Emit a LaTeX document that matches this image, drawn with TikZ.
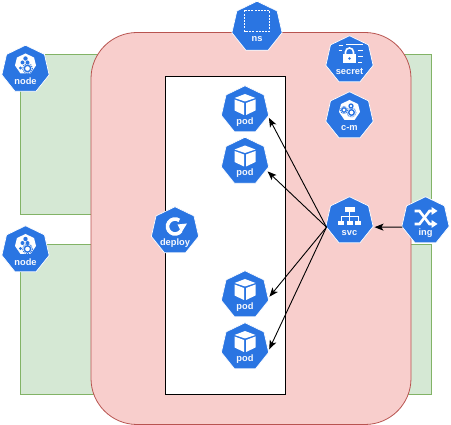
\documentclass[tikz,border=0pt]{standalone}
\usepackage{fontspec}
\setsansfont{Liberation Sans}
\usepackage{tikz}
\usetikzlibrary{shapes.geometric,arrows.meta}
\definecolor{kubeblue}{HTML}{2A75E2}
\definecolor{nodefill}{HTML}{D5E8D4}
\definecolor{nodeline}{HTML}{82B366}
\definecolor{nsfill}{HTML}{F8CECC}
\definecolor{nsline}{HTML}{B85450}
\tikzset{
    kube/.style={
        regular polygon, regular polygon sides=7, draw=white, fill=kubeblue,
        minimum size=48.5pt, inner sep=0pt, outer sep=0pt, line width=0.7pt
    },
    kindlabel/.style={
        font=\sffamily\bfseries\fontsize{9.3}{9.3}\selectfont, text=white!96!kubeblue,
        inner sep=0pt, yshift=-11.8pt
    },
    worker/.style={draw=nodeline, fill=nodefill, line width=0.8pt},
    link/.style={-{Stealth[length=9pt,width=7pt,inset=2.2pt]}, line width=0.9pt, shorten >=2pt},
    pics/podicon/.style={code={
        \fill[white] (0,-16) -- (10.5,-12) -- (0,-8.5) -- (-10.5,-12) -- cycle;
        \fill[white] (-10.5,-10.5) -- (-1,-7) -- (-1,5) -- (-10.5,0.5) -- cycle;
        \fill[white] (10.5,-10.5) -- (1,-7) -- (1,5) -- (10.5,0.5) -- cycle;
    }},
    pics/nodeicon/.style={code={
        \fill[white] (0,-16) -- (8.5,-12) -- (10.5,-4) -- (5,4) -- (-5,4) -- (-10.5,-4) -- (-8.5,-12) -- cycle;
        \fill[kubeblue] (0,-11) circle (2.2);
        \fill[kubeblue] (-3,-7) circle (2);
        \fill[kubeblue] (2,-7) circle (2);
        \fill[kubeblue] (-5,-1.5) circle (1.6);
        \draw[kubeblue, line width=1.4pt] (2,-1) circle (3.2);
        \draw[kubeblue, line width=0.9pt, dash pattern=on 1pt off 1pt] (2,-1) circle (5);
    }},
    pics/cmicon/.style={code={
        \fill[white] (0,-16) -- (8.5,-12) -- (10.5,-4) -- (5,4) -- (-5,4) -- (-10.5,-4) -- (-8.5,-12) -- cycle;
        \draw[kubeblue, line width=1.3pt] (-5.5,-6) circle (2.2);
        \draw[kubeblue, line width=1.3pt] (1.5,-10) circle (2);
        \draw[kubeblue, line width=1.4pt] (2,-3.5) circle (2.8);
        \draw[kubeblue, line width=0.8pt, dash pattern=on 1pt off 1pt] (2,-3.5) circle (4.6);
        \draw[kubeblue, line width=0.8pt, dash pattern=on 1pt off 1pt] (-5.5,-6) circle (3.6);
    }},
    pics/nsicon/.style={code={
        \draw[white, line width=1pt, dash pattern=on 2pt off 1.2pt] (-12.5,-16.5) rectangle (12.5,4.5);
    }},
    pics/secreticon/.style={code={
        \fill[white] (-6.5,-6) rectangle (6.5,3.5);
        \draw[white, line width=1.6pt] (-4,-6) -- (-4,-8) arc[start angle=180, end angle=360, radius=4] -- (4,-6);
        \fill[kubeblue] (0,-1.5) circle (1.3);
        \draw[white, line width=1pt] (-11,-14) -- (-7,-14) (-3.5,-15) -- (13,-15);
        \draw[white, line width=1pt] (-11,-9) -- (-8,-9) (8,-9) -- (13,-9);
        \draw[white, line width=1pt] (8.5,-3) -- (13,-3) (8.5,3) -- (12,3);
    }},
    pics/svcicon/.style={code={
        \fill[white] (-5,-14) rectangle (5,-9);
        \fill[white] (-11.5,0) rectangle (-5.5,4.5);
        \fill[white] (-3,0) rectangle (3,4.5);
        \fill[white] (5.5,0) rectangle (11.5,4.5);
        \draw[white, line width=0.8pt] (0,-9) -- (0,0) (-8.5,0) -- (-8.5,-4.5) -- (8.5,-4.5) -- (8.5,0);
    }},
    pics/ingicon/.style={code={
        \draw[white, line width=2.6pt] (-11,-10) -- (-6,-10) -- (4,3) -- (7,3);
        \draw[white, line width=2.6pt] (-11,3) -- (-6,3) -- (4,-10) -- (7,-10);
        \fill[white] (6,-14) -- (12,-10) -- (6,-6) -- cycle;
        \fill[white] (6,-1) -- (12,3) -- (6,7) -- cycle;
    }},
    pics/deployicon/.style={code={
        \draw[white, line width=3.6pt] (0,-4.5) ++(35:7.5) arc[start angle=35, end angle=305, radius=7.5];
        \fill[white] (2.5,-6.5) -- (12,-7.5) -- (6.5,1.5) -- cycle;
    }}
}
\begin{document}
\begin{tikzpicture}[x=1pt,y=-1pt]
    \useasboundingbox (0,0) rectangle (451,425);
    % nodes behind the namespace
    \draw[worker] (20.5,54.5) rectangle (431,214);
    \draw[worker] (20.5,244) rectangle (431,394);
    \draw[draw=nsline, fill=nsfill, line width=0.8pt, rounded corners=46pt] (91,32.5) rectangle (411,424.5);
    \draw[fill=white, line width=0.8pt] (165,76.5) rectangle (285.5,394);

    \node[kube, label={[kindlabel]center:pod}] (pod1) at (245,110) {};
    \node[kube, label={[kindlabel]center:pod}] (pod2) at (245,161.5) {};
    \node[kube, label={[kindlabel]center:pod}] (pod3) at (245,295) {};
    \node[kube, label={[kindlabel]center:pod}] (pod4) at (245,347) {};
    \node[kube, label={[kindlabel]center:deploy}] (deploy) at (175,231) {};
    \node[kube, label={[kindlabel]center:node}] (node1) at (25.5,69.5) {};
    \node[kube, label={[kindlabel]center:node}] (node2) at (25.5,250) {};
    \node[kube, minimum size=51.5pt, label={[kindlabel]center:ns}] (ns) at (257,27) {};
    \node[kube, label={[kindlabel]center:secret}] (secret) at (349.5,60) {};
    \node[kube, label={[kindlabel]center:c-m}] (cm) at (349.5,116) {};
    \node[kube, label={[kindlabel]center:svc}] (svc) at (349.5,221) {};
    \node[kube, label={[kindlabel]center:ing}] (ing) at (425.5,221) {};

    \pic at (pod1.center) {podicon};
    \pic at (pod2.center) {podicon};
    \pic at (pod3.center) {podicon};
    \pic at (pod4.center) {podicon};
    \pic at (deploy.center) {deployicon};
    \pic at (node1.center) {nodeicon};
    \pic at (node2.center) {nodeicon};
    \pic at (ns.center) {nsicon};
    \pic at (secret.center) {secreticon};
    \pic at (cm.center) {cmicon};
    \pic at (svc.center) {svcicon};
    \pic at (ing.center) {ingicon};

    \draw[link] (svc.195) -- (pod1.-15);
    \draw[link] (svc.195) -- (pod2.-22);
    \draw[link] (svc.195) -- (pod3.-8);
    \draw[link] (svc.195) -- (pod4.-10);
    \draw[link] (ing.195) -- (svc.-15);
\end{tikzpicture}
\end{document}
